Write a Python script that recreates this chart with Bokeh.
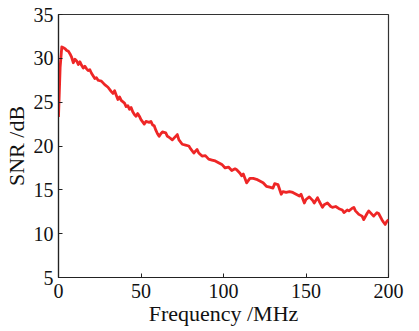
from bokeh.plotting import figure
from bokeh.embed import file_html
from bokeh.resources import INLINE
from bokeh.models import FixedTicker, Range1d

freq_mhz = [0, 1, 2, 3, 4, 5, 6, 7, 8, 9,
            10, 11, 12, 13, 14, 15, 16, 17, 18, 19,
            20, 22, 23, 24, 26, 27, 28, 30, 32, 33,
            34, 35, 36, 37, 38, 40, 41, 42, 43, 44,
            45, 46, 47, 48, 49, 50, 52, 53, 55, 56,
            57, 58, 59, 60, 61, 62, 63, 65, 66, 67,
            69, 70, 72, 73, 75, 77, 79, 80, 82, 84,
            85, 87, 89, 91, 93, 95, 97, 99, 101, 103,
            105, 107, 108, 110, 111, 112, 114, 116, 118, 120,
            122, 124, 126, 128, 130, 131, 133, 135, 136, 138,
            140, 142, 144, 146, 147, 149, 150, 152, 154, 155,
            157, 158, 160, 161, 163, 165, 166, 168, 170, 172,
            173, 175, 176, 178, 179, 180, 182, 184, 185, 187,
            188, 190, 191, 193, 194, 196, 197, 198, 199, 200]
snr_db = [23.3, 29.0, 31.3, 31.2, 31.1, 30.9, 30.8, 30.5, 30.1, 29.5,
          29.9, 29.7, 29.3, 29.6, 29.2, 28.9, 29.1, 28.8, 28.6, 28.7,
          28.3, 27.7, 27.8, 27.5, 27.4, 27.2, 27.0, 26.7, 26.2, 26.0,
          26.3, 25.8, 25.3, 25.6, 25.2, 24.9, 24.5, 24.6, 24.2, 24.4,
          23.9, 23.6, 23.4, 23.7, 23.4, 23.0, 22.5, 22.8, 22.7, 22.8,
          22.4, 22.3, 21.8, 21.4, 21.1, 21.4, 21.6, 21.5, 21.1, 21.0,
          20.7, 20.9, 21.3, 20.7, 20.2, 20.1, 20.0, 19.7, 19.2, 19.6,
          19.2, 18.85, 18.9, 18.5, 18.4, 18.3, 18.1, 17.9, 17.5, 17.6,
          17.2, 17.4, 17.3, 16.9, 16.6, 16.8, 15.8, 16.3, 16.3, 16.2,
          16.0, 15.8, 15.4, 15.3, 15.2, 15.7, 15.6, 14.5, 14.8, 14.7,
          14.8, 14.7, 14.5, 14.3, 14.5, 13.5, 13.9, 14.2, 13.8, 13.5,
          14.1, 13.7, 13.0, 13.3, 13.5, 13.1, 13.0, 13.1, 12.85, 12.7,
          12.4, 12.7, 12.6, 12.9, 13.0, 12.6, 12.2, 12.0, 11.6, 12.3,
          12.6, 12.2, 12.0, 12.4, 12.3, 11.6, 11.3, 11.05, 11.4, 11.6]

x_ticks = [0, 50, 100, 150, 200]
y_ticks = [5, 10, 15, 20, 25, 30, 35]

FONT = "Liberation Serif"

p = figure(output_backend="svg", toolbar_location=None,
           frame_width=330, frame_height=263,
           min_border_left=51, min_border_right=20,
           min_border_top=14, min_border_bottom=44,
           x_range=Range1d(0, 200), y_range=Range1d(5, 35),
           x_axis_label="Frequency /MHz", y_axis_label="SNR /dB")

p.line(freq_mhz, snr_db, line_color="#ee2626", line_width=2.8,
       line_join="round")

p.grid.visible = False
p.outline_line_color = "#333333"
p.outline_line_width = 1.2
p.background_fill_color = "white"
p.border_fill_color = "white"

p.xaxis.ticker = FixedTicker(ticks=x_ticks)
p.yaxis.ticker = FixedTicker(ticks=y_ticks)
for ax in (p.xaxis[0], p.yaxis[0]):
    ax.major_tick_in = 4
    ax.major_tick_out = 0
    ax.minor_tick_in = 0
    ax.minor_tick_out = 0
    ax.axis_line_color = "#222222"
    ax.axis_line_width = 1.2
    ax.major_tick_line_color = "#222222"
    ax.major_label_text_font = FONT
    ax.major_label_text_font_size = "20px"
    ax.major_label_text_color = "#111111"
    ax.axis_label_text_font = FONT
    ax.axis_label_text_font_size = "22px"
    ax.axis_label_text_font_style = "normal"
    ax.axis_label_text_color = "#111111"

p.xaxis.major_label_standoff = 6
p.yaxis.major_label_standoff = 5
p.xaxis.axis_label_standoff = 0
p.yaxis.axis_label_standoff = 2

open("out.html", "w").write(file_html(p, INLINE))
